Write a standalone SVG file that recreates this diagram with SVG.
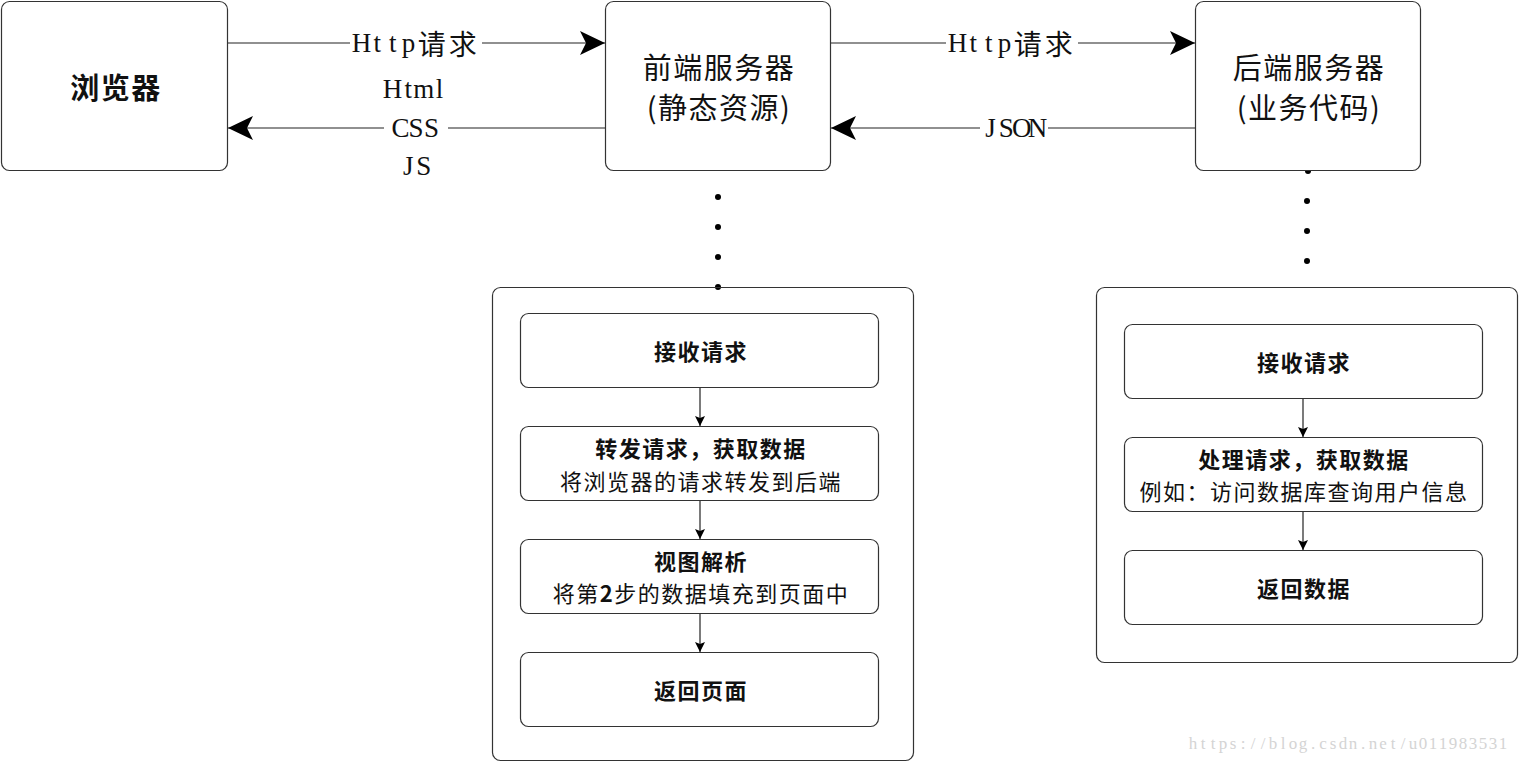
<svg xmlns="http://www.w3.org/2000/svg" width="1520" height="763" viewBox="0 0 1520 763">
<defs>
<style>
.box{fill:#fff;stroke:#333;stroke-width:1.2}
.ln{fill:none;stroke:#222;stroke-width:1.2}
.cjk{font-family:"Noto Sans CJK SC","Noto Sans",sans-serif;fill:#111}
.title{font-size:29px;letter-spacing:1.5px}
.hd{font-size:22px;font-weight:bold;letter-spacing:1.5px}
.sub{font-size:22px;letter-spacing:1.5px}
.lbl{font-family:"Liberation Serif",serif;font-size:27px;fill:#111}
.lblc{font-family:"Noto Sans CJK SC",sans-serif;font-size:28px}
.wm{font-family:"Liberation Serif",serif;font-size:17px;fill:#d4d4d4}
.dot{fill:#000}
</style>
<marker id="big" markerWidth="26" markerHeight="24" refX="25" refY="12" orient="auto" markerUnits="userSpaceOnUse">
<path d="M0,0 L25,12 L0,24 L6,12 Z" fill="#000"/>
</marker>
<marker id="sm" markerWidth="10" markerHeight="12" refX="10" refY="6" orient="auto" markerUnits="userSpaceOnUse">
<path d="M0,1 L10,6 L0,11 L2,6 Z" fill="#000"/>
</marker>
</defs>
<rect width="1520" height="763" fill="#fff"/>

<g id="connectors">
<line class="ln" x1="228" y1="43" x2="605" y2="43" marker-end="url(#big)"/>
<line class="ln" x1="605" y1="128" x2="228" y2="128" marker-end="url(#big)"/>
<line class="ln" x1="831" y1="43" x2="1195" y2="43" marker-end="url(#big)"/>
<line class="ln" x1="1195" y1="128" x2="831" y2="128" marker-end="url(#big)"/>
<line class="ln" x1="700" y1="388" x2="700" y2="426" marker-end="url(#sm)"/>
<line class="ln" x1="700" y1="501" x2="700" y2="539" marker-end="url(#sm)"/>
<line class="ln" x1="700" y1="614" x2="700" y2="652" marker-end="url(#sm)"/>
<line class="ln" x1="1303" y1="399" x2="1303" y2="437" marker-end="url(#sm)"/>
<line class="ln" x1="1303" y1="512" x2="1303" y2="550" marker-end="url(#sm)"/>
<circle class="dot" cx="718" cy="197" r="3"/>
<circle class="dot" cx="718" cy="227" r="3"/>
<circle class="dot" cx="718" cy="257" r="3"/>
<circle class="dot" cx="718" cy="287" r="3"/>
<circle class="dot" cx="1308" cy="171" r="3"/>
<circle class="dot" cx="1307" cy="201" r="3"/>
<circle class="dot" cx="1307" cy="231" r="3"/>
<circle class="dot" cx="1307" cy="261" r="3"/>
</g>

<g id="label-http1">
<rect x="350" y="28" width="132" height="30" fill="#fff"/>
<text class="lbl" y="43" text-anchor="middle" dominant-baseline="central"><tspan x="361.6 377.2 392.8 408.4">Http</tspan><tspan class="lblc" x="431.7 462.7">请求</tspan></text>
</g>
<g id="label-html">
<rect x="384" y="113" width="64" height="30" fill="#fff"/>
<text class="lbl" x="392.6 408.2 423.8 439.4" y="89" text-anchor="middle" dominant-baseline="central">Html</text>
<text class="lbl" x="400.4 416 431.6" y="128" text-anchor="middle" dominant-baseline="central">CSS</text>
<text class="lbl" x="408.2 423.8" y="166" text-anchor="middle" dominant-baseline="central">JS</text>
</g>
<g id="label-http2">
<rect x="946" y="28" width="132" height="30" fill="#fff"/>
<text class="lbl" y="43" text-anchor="middle" dominant-baseline="central"><tspan x="957.6 973.2 988.8 1004.4">Http</tspan><tspan class="lblc" x="1027.7 1058.7">请求</tspan></text>
</g>
<g id="label-json">
<rect x="980" y="113" width="68" height="30" fill="#fff"/>
<text class="lbl" x="990.6 1006.2 1021.8 1037.4" y="128" text-anchor="middle" dominant-baseline="central">JSON</text>
</g>

<g id="browser">
<rect class="box" x="1.5" y="1.5" width="226" height="169" rx="8"/>
<text class="cjk title" x="116" y="86" text-anchor="middle" dominant-baseline="central" font-weight="bold">浏览器</text>
</g>
<g id="frontend">
<rect class="box" x="605.5" y="1.5" width="225" height="169" rx="8"/>
<text class="cjk title" x="719" y="66" text-anchor="middle" dominant-baseline="central">前端服务器</text>
<text class="cjk title" x="719" y="106" text-anchor="middle" dominant-baseline="central">(静态资源)</text>
</g>
<g id="backend">
<rect class="box" x="1195.5" y="1.5" width="225" height="169" rx="8"/>
<text class="cjk title" x="1309" y="66" text-anchor="middle" dominant-baseline="central">后端服务器</text>
<text class="cjk title" x="1309" y="106" text-anchor="middle" dominant-baseline="central">(业务代码)</text>
</g>

<g id="front-container">
<rect class="box" x="492.5" y="287.5" width="421" height="473" rx="8" style="fill:none"/>
</g>
<g id="f-step1">
<rect class="box" x="520.5" y="313.5" width="358" height="74" rx="8"/>
<text class="cjk hd" x="701" y="350" text-anchor="middle" dominant-baseline="central">接收请求</text>
</g>
<g id="f-step2">
<rect class="box" x="520.5" y="426.5" width="358" height="74" rx="8"/>
<text class="cjk hd" x="701" y="447" text-anchor="middle" dominant-baseline="central">转发请求，获取数据</text>
<text class="cjk sub" x="701" y="480" text-anchor="middle" dominant-baseline="central">将浏览器的请求转发到后端</text>
</g>
<g id="f-step3">
<rect class="box" x="520.5" y="539.5" width="358" height="74" rx="8"/>
<text class="cjk hd" x="701" y="560" text-anchor="middle" dominant-baseline="central">视图解析</text>
<text class="cjk sub" x="701" y="592" text-anchor="middle" dominant-baseline="central">将第<tspan font-weight="bold">2</tspan>步的数据填充到页面中</text>
</g>
<g id="f-step4">
<rect class="box" x="520.5" y="652.5" width="358" height="74" rx="8"/>
<text class="cjk hd" x="701" y="689" text-anchor="middle" dominant-baseline="central">返回页面</text>
</g>

<g id="back-container">
<rect class="box" x="1096.5" y="287.5" width="421" height="375" rx="8" style="fill:none"/>
</g>
<g id="b-step1">
<rect class="box" x="1124.5" y="324.5" width="358" height="74" rx="8"/>
<text class="cjk hd" x="1304" y="361" text-anchor="middle" dominant-baseline="central">接收请求</text>
</g>
<g id="b-step2">
<rect class="box" x="1124.5" y="437.5" width="358" height="74" rx="8"/>
<text class="cjk hd" x="1304" y="458" text-anchor="middle" dominant-baseline="central">处理请求，获取数据</text>
<text class="cjk sub" x="1304" y="490" text-anchor="middle" dominant-baseline="central">例如：访问数据库查询用户信息</text>
</g>
<g id="b-step3">
<rect class="box" x="1124.5" y="550.5" width="358" height="74" rx="8"/>
<text class="cjk hd" x="1304" y="587" text-anchor="middle" dominant-baseline="central">返回数据</text>
</g>

<text class="wm" y="749" text-anchor="middle" x="1193 1203 1213 1223 1233 1243 1253 1263 1273 1283 1293 1303 1313 1323 1333 1343 1353 1363 1373 1383 1393 1403 1413 1423 1433 1443 1453 1463 1473 1483 1493 1503">https://blog.csdn.net/u011983531</text>
</svg>
